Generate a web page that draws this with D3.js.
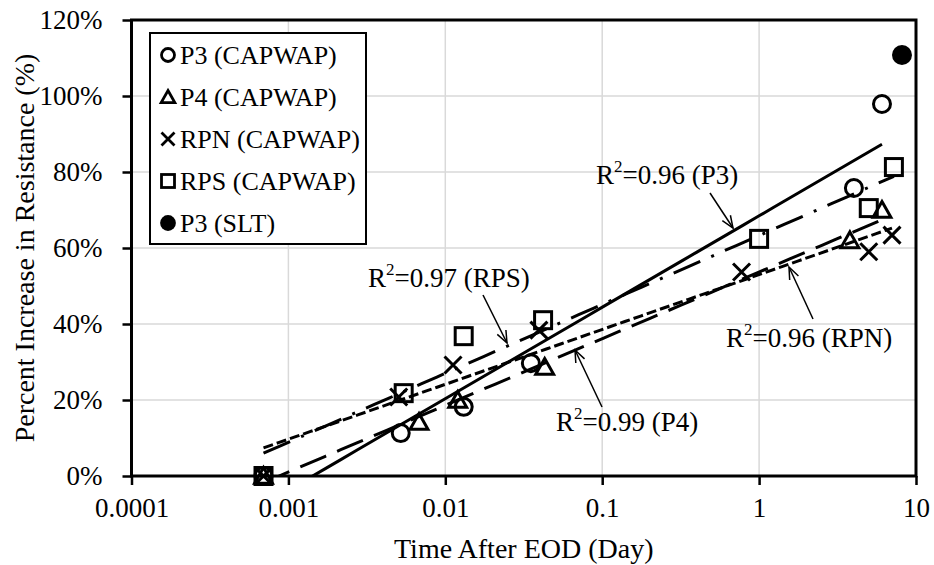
<!DOCTYPE html>
<html><head><meta charset="utf-8">
<script src="https://cdn.jsdelivr.net/npm/d3@7"></script>
<style>
body{margin:0;background:#fff;}
text{font-family:"Liberation Serif","Times New Roman",serif;fill:#000;}
</style>
</head><body>
<svg id="chart" width="934" height="565"></svg>
<script>
// ---- data ----
const xTickValues = [0.0001, 0.001, 0.01, 0.1, 1, 10];
const xTickLabels = ["0.0001", "0.001", "0.01", "0.1", "1", "10"];
const yTickValues = [0, 20, 40, 60, 80, 100, 120];

const p3Time  = [0.000694, 0.0052, 0.0131, 0.0351, 4.02, 6.07];
const p3Inc   = [0, 11.3, 18.2, 29.7, 75.8, 97.9];
const p4Time  = [0.000694, 0.0068, 0.012, 0.043, 3.79, 6.07];
const p4Inc   = [0, 14.2, 20.0, 28.7, 62.0, 70.0];
const rpnTime = [0.000694, 0.00505, 0.0112, 0.0395, 0.773, 5.0, 7.03];
const rpnInc  = [0, 20.8, 29.2, 38.4, 53.7, 59.0, 63.4];
const rpsTime = [0.000694, 0.00543, 0.0131, 0.042, 1.0, 5.0, 7.23];
const rpsInc  = [0, 21.8, 36.8, 41.0, 62.4, 70.5, 81.3];
const sltTime = [8.14];
const sltInc  = [110.8];

const legendLabels = ["P3 (CAPWAP)", "P4 (CAPWAP)", "RPN (CAPWAP)", "RPS (CAPWAP)", "P3 (SLT)"];
const r2Values = ["0.96", "0.99", "0.96", "0.97"];
const r2Names  = ["P3", "P4", "RPN", "RPS"];

// ---- layout ----
const svg = d3.select("#chart");
const L = 131.5, R = 916, T = 20, B = 476;
const x = d3.scaleLog().domain([1e-4, 10]).range([L, R]);
const y = d3.scaleLinear().domain([0, 120]).range([B, T]);
const FS_TICK = 27, FS_TITLE = 28, FS_LEG = 26, FS_ANN = 27;

svg.append("defs").append("clipPath").attr("id", "plotclip")
  .append("rect").attr("x", L).attr("y", T).attr("width", R - L).attr("height", B - T);

// gridlines
const grid = svg.append("g");
grid.selectAll("line.gx").data(xTickValues.slice(1, -1)).join("line")
  .attr("x1", d => x(d)).attr("x2", d => x(d)).attr("y1", T).attr("y2", B)
  .attr("stroke", "#d9d9d9").attr("stroke-width", 1.5);
grid.selectAll("line.gy").data(yTickValues.slice(1, -1)).join("line")
  .attr("y1", d => y(d)).attr("y2", d => y(d)).attr("x1", L).attr("x2", R)
  .attr("stroke", "#d9d9d9").attr("stroke-width", 1.5);

// trendlines (log regression)
function logFit(xs, ys) {
  const lx = xs.map(v => Math.log10(v));
  const mx = d3.mean(lx), my = d3.mean(ys);
  let sxy = 0, sxx = 0;
  lx.forEach((v, i) => { sxy += (v - mx) * (ys[i] - my); sxx += (v - mx) * (v - mx); });
  const b = sxy / sxx;
  return v => my + b * (Math.log10(v) - mx);
}
const trendSpecs = [
  {xs: p3Time, ys: p3Inc, dash: null},
  {xs: p4Time, ys: p4Inc, dash: "28,12"},
  {xs: rpnTime, ys: rpnInc, dash: "10,4"},
  {xs: rpsTime, ys: rpsInc, dash: "29,12,3,12"}
];
const tg = svg.append("g").attr("clip-path", "url(#plotclip)");
trendSpecs.forEach(s => {
  const f = logFit(s.xs, s.ys);
  const x0 = d3.min(s.xs), x1 = d3.max(s.xs);
  const pts = d3.range(0, 41).map(i => {
    const v = Math.pow(10, Math.log10(x0) + (Math.log10(x1) - Math.log10(x0)) * i / 40);
    return [x(v), y(f(v))];
  });
  tg.append("path").attr("d", d3.line()(pts)).attr("fill", "none")
    .attr("stroke", "#000").attr("stroke-width", 3)
    .attr("stroke-dasharray", s.dash);
});

// markers
function drawMarker(g, type, cx, cy, s, sw) {
  const h = s / 2;
  if (type === "circle") {
    g.append("circle").attr("cx", cx).attr("cy", cy).attr("r", h).attr("fill", "none").attr("stroke", "#000").attr("stroke-width", sw);
  } else if (type === "dot") {
    g.append("circle").attr("cx", cx).attr("cy", cy).attr("r", h + sw / 2).attr("fill", "#000");
  } else if (type === "square") {
    g.append("rect").attr("x", cx - h).attr("y", cy - h).attr("width", s).attr("height", s).attr("fill", "none").attr("stroke", "#000").attr("stroke-width", sw);
  } else if (type === "triangle") {
    g.append("path").attr("d", `M${cx},${cy - h}L${cx + h * 1.05},${cy + h * 0.85}L${cx - h * 1.05},${cy + h * 0.85}Z`)
      .attr("fill", "none").attr("stroke", "#000").attr("stroke-width", sw).attr("stroke-linejoin", "miter");
  } else if (type === "x") {
    g.append("path").attr("d", `M${cx - h},${cy - h}L${cx + h},${cy + h}M${cx + h},${cy - h}L${cx - h},${cy + h}`)
      .attr("stroke", "#000").attr("stroke-width", sw);
  }
}
const mg = svg.append("g");
const markerSets = [
  {xs: p3Time, ys: p3Inc, type: "circle"},
  {xs: p4Time, ys: p4Inc, type: "triangle"},
  {xs: rpnTime, ys: rpnInc, type: "x"},
  {xs: rpsTime, ys: rpsInc, type: "square"},
  {xs: sltTime, ys: sltInc, type: "dot"}
];
markerSets.forEach(s => s.xs.forEach((v, i) => drawMarker(mg, s.type, x(v), y(s.ys[i]), 17, 3)));

// axes
const xAxis = svg.append("g").attr("transform", `translate(0,${B})`)
  .call(d3.axisBottom(x).tickValues(xTickValues).tickFormat((d, i) => xTickLabels[i]).tickSize(9).tickPadding(13));
const yAxis = svg.append("g").attr("transform", `translate(${L},0)`)
  .call(d3.axisLeft(y).tickValues(yTickValues).tickFormat(d => d + "%").tickSize(9).tickPadding(20));
xAxis.selectAll(".tick text").attr("font-size", FS_TICK);
yAxis.selectAll(".tick text").attr("font-size", FS_TICK);
[xAxis, yAxis].forEach(a => {
  a.select(".domain").remove();
  a.selectAll(".tick line").attr("stroke", "#000").attr("stroke-width", 2.5);
  a.selectAll(".tick text").attr("font-family", "Liberation Serif");
});
svg.append("rect").attr("x", L).attr("y", T).attr("width", R - L).attr("height", B - T)
  .attr("fill", "none").attr("stroke", "#000").attr("stroke-width", 3);

// axis titles
svg.append("text").attr("x", (L + R) / 2).attr("y", 548).attr("text-anchor", "middle")
  .attr("dominant-baseline", "central").attr("font-size", FS_TITLE).text("Time After EOD (Day)");
svg.append("text").attr("transform", `translate(24,${(T + B) / 2}) rotate(-90)`).attr("text-anchor", "middle")
  .attr("dominant-baseline", "central").attr("font-size", FS_TITLE).text("Percent Increase in Resistance (%)");

// legend
const lg = svg.append("g");
lg.append("rect").attr("x", 150).attr("y", 33).attr("width", 216).attr("height", 211)
  .attr("fill", "#fff").attr("stroke", "#000").attr("stroke-width", 2);
const legTypes = ["circle", "triangle", "x", "square", "dot"];
legendLabels.forEach((lab, i) => {
  const cy = 55 + i * 42;
  drawMarker(lg, legTypes[i], 168, cy, 13, 2.8);
  lg.append("text").attr("x", 180).attr("y", cy).attr("dominant-baseline", "central")
    .attr("font-size", FS_LEG).text(lab);
});

// annotations
const annPos = [
  {tx: 596, ty: 175, ax1: 710, ay1: 193, ax2: 733, ay2: 228},
  {tx: 556, ty: 422, ax1: 602, ay1: 407, ax2: 575, ay2: 350},
  {tx: 726, ty: 338, ax1: 813, ay1: 319, ax2: 789, ay2: 267},
  {tx: 368, ty: 278, ax1: 483, ay1: 295, ax2: 507, ay2: 343}
];
const ag = svg.append("g");
r2Values.forEach((val, i) => {
  const p = annPos[i];
  const t = ag.append("text").attr("x", p.tx).attr("y", p.ty).attr("dominant-baseline", "central").attr("font-size", FS_ANN);
  t.append("tspan").text("R");
  t.append("tspan").attr("font-size", 17).attr("dy", -9).text("2");
  t.append("tspan").attr("dy", 9).text("=" + val + " (" + r2Names[i] + ")");
  ag.append("line").attr("x1", p.ax1).attr("y1", p.ay1).attr("x2", p.ax2).attr("y2", p.ay2)
    .attr("stroke", "#000").attr("stroke-width", 1.5);
  const ang = Math.atan2(p.ay2 - p.ay1, p.ax2 - p.ax1);
  const len = 13, spread = 0.38;
  const a1 = ang + Math.PI - spread, a2 = ang + Math.PI + spread;
  ag.append("path").attr("d",
    `M${p.ax2 + len * Math.cos(a1)},${p.ay2 + len * Math.sin(a1)}L${p.ax2},${p.ay2}L${p.ax2 + len * Math.cos(a2)},${p.ay2 + len * Math.sin(a2)}`)
    .attr("fill", "none").attr("stroke", "#000").attr("stroke-width", 1.5);
});
</script>
</body></html>
